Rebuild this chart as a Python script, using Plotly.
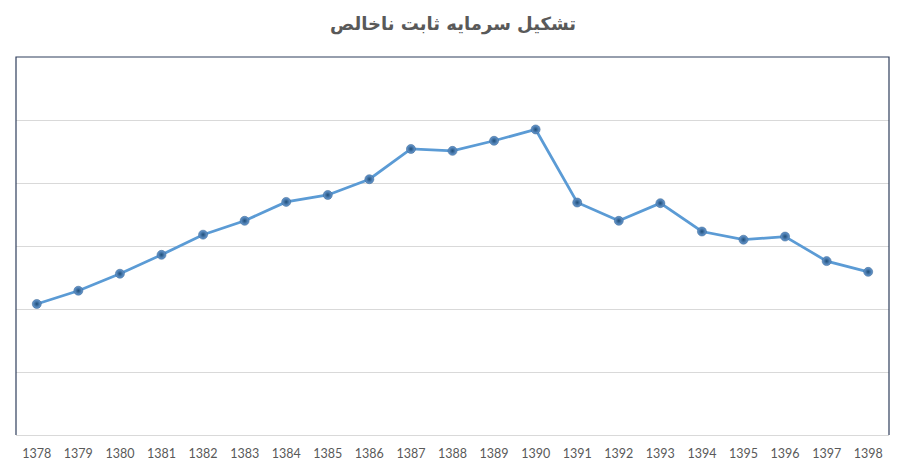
import plotly.graph_objects as go

# سال‌ها (محور افقی) و مقادیر تخمینی از روی نمودار
years = ["1378", "1379", "1380", "1381", "1382", "1383", "1384", "1385", "1386", "1387", "1388",
         "1389", "1390", "1391", "1392", "1393", "1394", "1395", "1396", "1397", "1398"]
values = [208, 229, 256, 286, 318, 340, 370, 381, 406, 454, 451,
          467, 485, 369, 340, 368, 323, 310, 315, 276, 259]

title_text = "تشکیل سرمایه ثابت ناخالص"

# the page body has an 8px margin, so the figure is shrunk to fit the window
OFF = 8
W, H = 902 - 2 * OFF, 472 - 2 * OFF
L, R, T, B = 16 - OFF, W + OFF - 889, 57 - OFF, H + OFF - 435

fig = go.Figure()
fig.add_trace(go.Scatter(
    x=years, y=values, mode="lines+markers",
    line=dict(color="#5B9BD5", width=2.75),
    marker=dict(size=9, color="#6A9CD4",
                gradient=dict(type="radial", color="#1F4E79"),
                line=dict(width=0.5, color="#2E5C8A")),
    hoverinfo="x+y", showlegend=False,
))

fig.update_layout(
    width=W, height=H,
    margin=dict(l=L, r=R, t=T, b=B),
    paper_bgcolor="white", plot_bgcolor="white",
    title=dict(text="<b>" + title_text + "</b>", x=(453 - 16) / (889 - 16), xref="paper",
               xanchor="center", y=1 - (24 - OFF) / H, yanchor="middle",
               font=dict(family="DejaVu Sans", size=18, color="#595959")),
    xaxis=dict(type="category", range=[-0.5, len(years) - 0.5], automargin=False,
               showgrid=False, showline=True, linecolor="#D9D9D9", linewidth=1,
               ticks="", ticklabelstandoff=7,
               tickfont=dict(family="Lato", size=12.5, color="#595959"),
               fixedrange=True),
    yaxis=dict(range=[0, 600], dtick=100, showgrid=True, gridcolor="#D9D9D9", gridwidth=1,
               automargin=False,
               showticklabels=False, zeroline=False, showline=False, fixedrange=True),
    shapes=[
        # plot area frame (left, top, right) in navy
        dict(type="path", xref="paper", yref="paper",
             path="M 0,0 L 0,1 L 1,1 L 1,0",
             line=dict(color="#2F3E5C", width=1.2)),
    ],
)

fig.write_html("out.html")
